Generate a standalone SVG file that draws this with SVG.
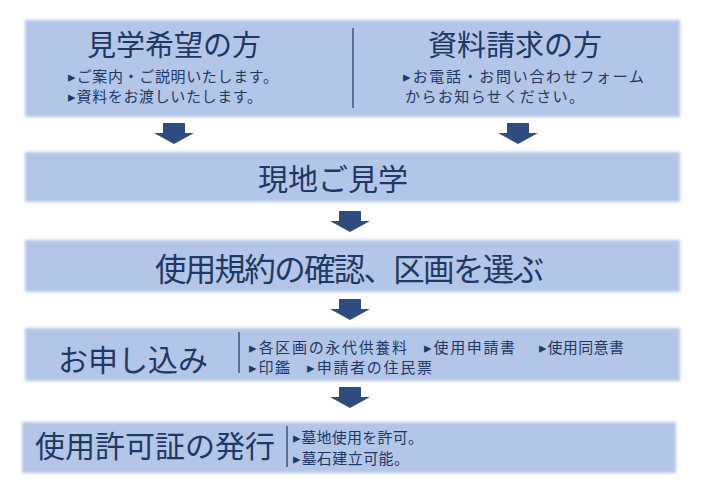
<svg xmlns="http://www.w3.org/2000/svg" width="702" height="496" viewBox="0 0 702 496">
<style>
.box{fill:#b4c6e7;filter:url(#soft)}
.t{font-family:"Noto Sans CJK JP","Noto Sans",sans-serif;fill:#1f3864}
.title{font-size:29px}
.big{font-size:30px}
.sub{font-size:15px}
.div{stroke:#1f3864;stroke-width:1.2}
.arrow{fill:#2f4c7e}
</style>
<defs>
<filter id="soft" x="-5%" y="-20%" width="110%" height="140%"><feGaussianBlur stdDeviation="1.4"/></filter>
<path id="arr" d="M-11,0 H11 V10 H20 L0,21 L-20,10 H-11 Z"/>
</defs>
<rect width="702" height="496" fill="#ffffff"/>
<g id="node-inquiry">
<rect class="box" x="25" y="20" width="655" height="97"/>
<line class="div" x1="353" y1="28" x2="353" y2="108"/>
<text class="t title" x="87" y="56">見学希望の方</text>
<text class="t sub" x="68" y="82" textLength="210" lengthAdjust="spacing">▸ご案内・ご説明いたします。</text>
<text class="t sub" x="68" y="102" textLength="194" lengthAdjust="spacing">▸資料をお渡しいたします。</text>
<text class="t title" x="428" y="56">資料請求の方</text>
<text class="t sub" x="403" y="82" textLength="241" lengthAdjust="spacing">▸お電話・お問い合わせフォーム</text>
<text class="t sub" x="405" y="102" textLength="179" lengthAdjust="spacing">からお知らせください。</text>
</g>
<g id="node-visit">
<rect class="box" x="25" y="152" width="655" height="50"/>
<text class="t big" x="258" y="190">現地ご見学</text>
</g>
<g id="node-select">
<rect class="box" x="25" y="240" width="655" height="52"/>
<text class="t" style="font-size:31.5px" x="155" y="281" textLength="389" lengthAdjust="spacing">使用規約の確認、区画を選ぶ</text>
</g>
<g id="node-apply">
<rect class="box" x="25" y="328" width="655" height="53"/>
<text class="t big" x="58" y="371">お申し込み</text>
<line class="div" x1="239" y1="332" x2="239" y2="373"/>
<text class="t sub" x="249" y="353" textLength="158" lengthAdjust="spacing">▸各区画の永代供養料</text>
<text class="t sub" x="424" y="353" textLength="91" lengthAdjust="spacing">▸使用申請書</text>
<text class="t sub" x="539" y="353" textLength="85" lengthAdjust="spacing">▸使用同意書</text>
<text class="t sub" x="249" y="373" textLength="41" lengthAdjust="spacing">▸印鑑</text>
<text class="t sub" x="307" y="373" textLength="125" lengthAdjust="spacing">▸申請者の住民票</text>
</g>
<g id="node-permit">
<rect class="box" x="22" y="422" width="654" height="51"/>
<text class="t big" x="35" y="457">使用許可証の発行</text>
<line class="div" x1="287" y1="426" x2="287" y2="467"/>
<text class="t sub" x="293" y="443" textLength="130" lengthAdjust="spacing">▸墓地使用を許可。</text>
<text class="t sub" x="293" y="464" textLength="116" lengthAdjust="spacing">▸墓石建立可能。</text>
</g>
<g id="connectors">
<use class="arrow" href="#arr" x="174" y="123"/>
<use class="arrow" href="#arr" x="518" y="123"/>
<use class="arrow" href="#arr" x="350" y="211"/>
<use class="arrow" href="#arr" x="350" y="299"/>
<use class="arrow" href="#arr" x="350" y="387"/>
</g>
</svg>
